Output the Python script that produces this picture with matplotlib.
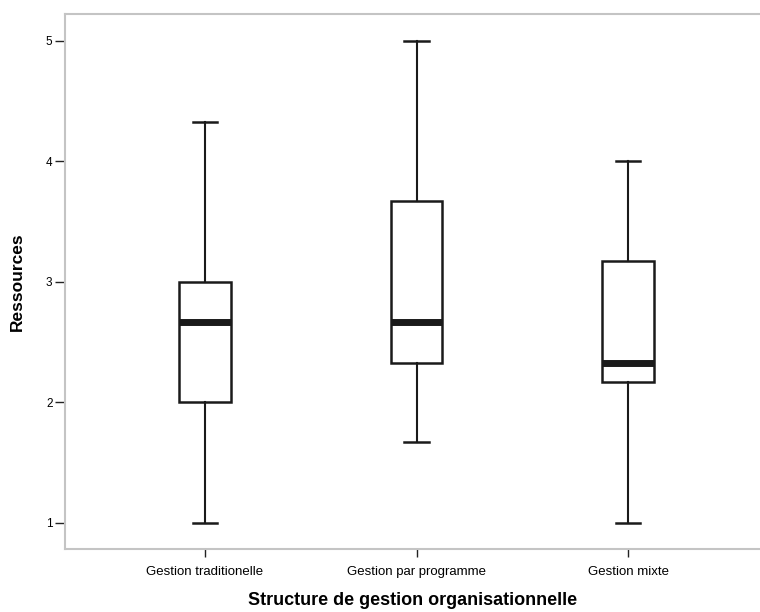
import matplotlib
matplotlib.use("Agg")
import matplotlib.pyplot as plt

categories = ["Gestion traditionelle", "Gestion par programme", "Gestion mixte"]
whisker_low = [1.0, 1.67, 1.0]
q1 = [2.0, 2.33, 2.17]
median = [2.67, 2.67, 2.33]
q3 = [3.0, 3.67, 3.17]
whisker_high = [4.33, 5.0, 4.0]
yticks = [1, 2, 3, 4, 5]

plt.rcParams['font.family'] = ['Liberation Sans', 'DejaVu Sans']

fig = plt.figure(figsize=(7.6, 6.12), dpi=100)
ax = fig.add_axes([65/760, 63/612, 1 - 65/760, (549-14)/612])

stats = []
for i, c in enumerate(categories):
    stats.append(dict(label=c, whislo=whisker_low[i], q1=q1[i], med=median[i],
                      q3=q3[i], whishi=whisker_high[i], fliers=[]))

ax.bxp(stats, positions=[1, 2, 3], widths=0.245, capwidths=0.115,
       showfliers=False, patch_artist=True,
       boxprops=dict(facecolor='white', edgecolor='#1a1a1a', linewidth=1.8),
       medianprops=dict(color='#1a1a1a', linewidth=5, solid_capstyle='butt'),
       whiskerprops=dict(color='#1a1a1a', linewidth=1.5),
       capprops=dict(color='#1a1a1a', linewidth=1.8))

ax.set_xlim(0.338, 3.624)
ax.set_ylim(0.784, 5.224)
ax.set_yticks(yticks)
ax.set_yticklabels([str(v) for v in yticks])

for s in ['left', 'bottom', 'top']:
    ax.spines[s].set_color('#c4c4c4')
    ax.spines[s].set_linewidth(1.5)
ax.spines['right'].set_visible(False)

ax.tick_params(axis='y', direction='out', length=7, width=1, color='#222222',
               labelsize=8.5, pad=2)
ax.tick_params(axis='x', direction='out', length=6, width=1, color='#222222',
               labelsize=9.5, pad=6)

ax.set_ylabel("Ressources", fontsize=12.5, fontweight='bold')
ax.yaxis.set_label_coords(-0.058, 0.5)
ax.set_xlabel("Structure de gestion organisationnelle", fontsize=13,
              fontweight='bold', labelpad=10)

fig.savefig("out.png", dpi=100)
